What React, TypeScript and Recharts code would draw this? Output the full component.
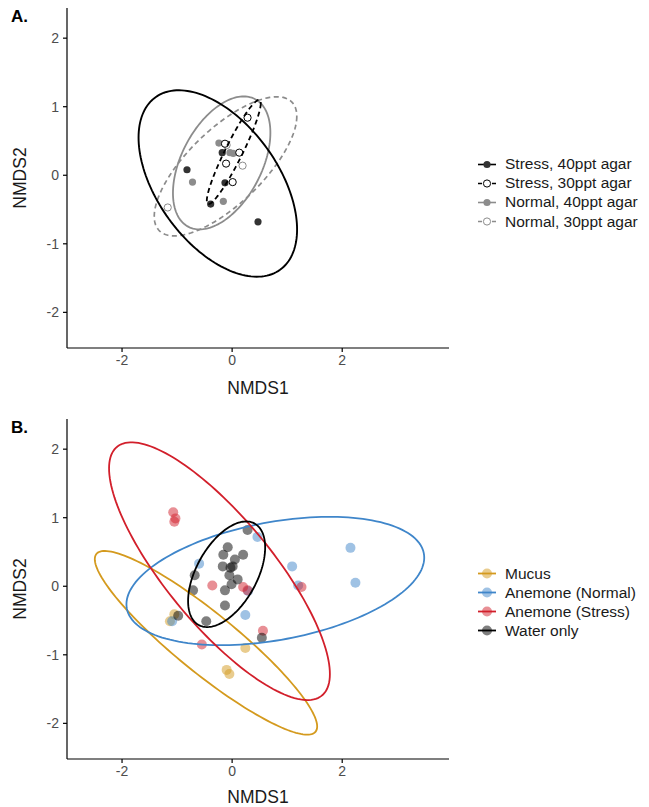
import React from 'react'
import { ScatterChart, Scatter, XAxis, YAxis, Legend } from 'recharts'

type Pt = { x: number; y: number }

const FONT = '"Liberation Sans", Arial, Helvetica, sans-serif'

// ---- panel A: agar treatments ----
const stress40: Pt[] = [
  { x: -0.82, y: 0.08 },
  { x: -0.18, y: 0.33 },
  { x: -0.13, y: -0.11 },
  { x: -0.39, y: -0.42 },
  { x: 0.47, y: -0.68 },
]
const stress30: Pt[] = [
  { x: 0.28, y: 0.84 },
  { x: -0.13, y: 0.46 },
  { x: 0.13, y: 0.33 },
  { x: -0.11, y: 0.17 },
  { x: 0.01, y: -0.1 },
]
const normal40: Pt[] = [
  { x: -0.24, y: 0.47 },
  { x: -0.04, y: 0.33 },
  { x: 0.02, y: 0.32 },
  { x: -0.72, y: -0.1 },
  { x: -0.16, y: -0.38 },
]
const normal30: Pt[] = [
  { x: -1.17, y: -0.47 },
  { x: 0.19, y: 0.14 },
  { x: -0.1, y: 0.44 },
]

// ellipse: [centre x, centre y, half width, half height, y offset at rightmost point]
const ellStress40 = [-0.26, -0.12, 1.44, 1.36, -0.67]
const ellStress30 = [0.03, 0.34, 0.49, 0.76, 0.71]
const ellNormal40 = [-0.19, 0.18, 0.885, 0.97, 0.44]
const ellNormal30 = [-0.12, 0.13, 1.295, 1.015, 0.73]

// ---- panel B: sources ----
const mucus: Pt[] = [
  { x: -1.05, y: -0.41 },
  { x: -1.13, y: -0.51 },
  { x: 0.24, y: -0.9 },
  { x: -0.1, y: -1.22 },
  { x: -0.05, y: -1.28 },
]
const anemoneNormal: Pt[] = [
  { x: 0.46, y: 0.72 },
  { x: -0.6, y: 0.33 },
  { x: 1.09, y: 0.29 },
  { x: 2.15, y: 0.56 },
  { x: 2.24, y: 0.05 },
  { x: 1.2, y: 0.01 },
  { x: 0.29, y: -0.07 },
  { x: 0.24, y: -0.42 },
  { x: -1.09, y: -0.51 },
]
const anemoneStress: Pt[] = [
  { x: -1.07, y: 1.08 },
  { x: -1.03, y: 0.99 },
  { x: -1.05, y: 0.94 },
  { x: -0.36, y: 0.01 },
  { x: 0.2, y: -0.01 },
  { x: 0.28, y: -0.06 },
  { x: 1.26, y: -0.01 },
  { x: 0.56, y: -0.65 },
  { x: -0.55, y: -0.85 },
]
const waterOnly: Pt[] = [
  { x: 0.28, y: 0.82 },
  { x: -0.08, y: 0.57 },
  { x: -0.16, y: 0.46 },
  { x: 0.2, y: 0.46 },
  { x: 0.05, y: 0.39 },
  { x: -0.17, y: 0.29 },
  { x: 0.01, y: 0.29 },
  { x: -0.03, y: 0.27 },
  { x: -0.68, y: 0.16 },
  { x: -0.05, y: 0.16 },
  { x: 0.1, y: 0.1 },
  { x: -0.01, y: 0.03 },
  { x: -0.71, y: -0.06 },
  { x: -0.13, y: -0.06 },
  { x: -0.13, y: -0.28 },
  { x: -0.98, y: -0.43 },
  { x: -0.47, y: -0.51 },
  { x: 0.54, y: -0.75 },
]

const ellMucus = [-0.475, -0.825, 2.02, 1.34, -1.22]
const ellNormal = [0.785, 0.077, 2.705, 0.936, 0.34]
const ellStress = [-0.23, 0.22, 2.006, 1.88, -1.5]
const ellWater = [-0.1, 0.175, 0.7, 0.77, 0.39]

const xTicks = [-2, 0, 2]
const yTicks = [-2, -1, 0, 1, 2]
const xDomain = [-3, 3.94]
const yDomain = [-2.52, 2.44]

const legendA = ['Stress, 40ppt agar', 'Stress, 30ppt agar', 'Normal, 40ppt agar', 'Normal, 30ppt agar']
const legendB = ['Mucus', 'Anemone (Normal)', 'Anemone (Stress)', 'Water only']

// outline of an ellipse from its read-off parameters
function outline([cx, cy, rx, ry, dyR]: number[]): Pt[] {
  const d = Math.acos(Math.max(-1, Math.min(1, dyR / ry)))
  const pts: Pt[] = []
  for (let i = 0; i <= 160; i++) {
    const t = (i / 160) * 2 * Math.PI
    pts.push({ x: cx + rx * Math.cos(t), y: cy + ry * Math.cos(t + d) })
  }
  return pts
}

const noDot = () => <g />

const dot = (r: number, fill: string, stroke: string, opacity = 1) => (p: any) => (
  <circle cx={p.cx} cy={p.cy} r={r} fill={fill} fillOpacity={opacity} stroke={stroke} strokeWidth={1} />
)

const GREY = '#8c8c8c'
const C_MUCUS = '#d49a1e'
const C_NORMAL = '#3f86ca'
const C_STRESS = '#d21f2b'
const C_WATER = '#000000'

const keysA = [
  { fill: '#333333', stroke: 'none', line: '#000', dash: undefined },
  { fill: '#ffffff', stroke: '#000', line: '#000', dash: '4 3' },
  { fill: GREY, stroke: 'none', line: GREY, dash: undefined },
  { fill: '#ffffff', stroke: GREY, line: GREY, dash: '4 3' },
]
const keysB = [C_MUCUS, C_NORMAL, C_STRESS, C_WATER]

function LegendA() {
  return (
    <div style={{ fontFamily: FONT, fontSize: 15.5, color: '#1a1a1a' }}>
      {legendA.map((label, i) => (
        <div key={label} style={{ display: 'flex', alignItems: 'center', height: 19.2 }}>
          <svg width={22} height={19}>
            <line x1={2} x2={20} y1={9.5} y2={9.5} stroke={keysA[i].line} strokeWidth={1.6} strokeDasharray={keysA[i].dash} />
            <circle cx={11} cy={9.5} r={3.6} fill={keysA[i].fill} stroke={keysA[i].stroke} strokeWidth={1} />
          </svg>
          <span style={{ marginLeft: 7, whiteSpace: 'nowrap' }}>{label}</span>
        </div>
      ))}
    </div>
  )
}

function LegendB() {
  return (
    <div style={{ fontFamily: FONT, fontSize: 15.5, color: '#1a1a1a' }}>
      {legendB.map((label, i) => (
        <div key={label} style={{ display: 'flex', alignItems: 'center', height: 18.9 }}>
          <svg width={22} height={19}>
            <circle cx={11} cy={9.5} r={5} fill={keysB[i]} fillOpacity={0.5} />
            <line x1={2} x2={20} y1={9.5} y2={9.5} stroke={keysB[i]} strokeWidth={1.8} />
          </svg>
          <span style={{ marginLeft: 7, whiteSpace: 'nowrap' }}>{label}</span>
        </div>
      ))}
    </div>
  )
}

const tickStyle = { fontSize: 14, fill: '#4d4d4d', fontFamily: FONT }
const titleStyle = { fontSize: 17.5, fill: '#1a1a1a', fontFamily: FONT }

function Axes(titleOffset: number) {
  return [
    <XAxis
      key="x"
      dataKey="x"
      type="number"
      domain={xDomain}
      ticks={xTicks}
      allowDataOverflow
      height={48}
      tickSize={4}
      tickMargin={3}
      axisLine={{ stroke: '#000', strokeWidth: 1.2 }}
      tickLine={{ stroke: '#000', strokeWidth: 1.2 }}
      tick={tickStyle}
      label={{ value: 'NMDS1', position: 'insideBottom', offset: titleOffset, style: titleStyle }}
    />,
    <YAxis
      key="y"
      dataKey="y"
      type="number"
      domain={yDomain}
      ticks={yTicks}
      allowDataOverflow
      width={67}
      tickSize={4}
      tickMargin={4}
      axisLine={{ stroke: '#000', strokeWidth: 1.2 }}
      tickLine={{ stroke: '#000', strokeWidth: 1.2 }}
      tick={tickStyle}
      label={{ value: 'NMDS2', angle: -90, position: 'insideLeft', offset: 20, style: { ...titleStyle, textAnchor: 'middle' } }}
    />,
  ]
}

const tagStyle: React.CSSProperties = {
  position: 'absolute',
  left: 11,
  fontFamily: FONT,
  fontWeight: 'bold',
  fontSize: 17,
  color: '#000',
}

export default function App() {
  return (
    <div style={{ position: 'absolute', left: 0, top: 0, width: 649, height: 807, overflow: 'hidden', background: '#fff' }}>
      <div style={{ position: 'absolute', left: 0, top: 0 }}>
        <ScatterChart width={649} height={410} margin={{ top: 8, right: 200, bottom: 14, left: 0 }}>
          {Axes(2)}
          <Scatter data={normal30} shape={dot(3.6, '#fff', GREY)} isAnimationActive={false} />
          <Scatter data={normal40} shape={dot(3.6, GREY, 'none')} isAnimationActive={false} />
          <Scatter data={stress30} shape={dot(3.6, '#fff', '#000')} isAnimationActive={false} />
          <Scatter data={stress40} shape={dot(3.6, '#333333', 'none')} isAnimationActive={false} />
          <Scatter data={outline(ellNormal30)} shape={noDot} line={{ stroke: GREY, strokeWidth: 1.7, strokeDasharray: '5 3.5' }} isAnimationActive={false} />
          <Scatter data={outline(ellNormal40)} shape={noDot} line={{ stroke: GREY, strokeWidth: 1.8 }} isAnimationActive={false} />
          <Scatter data={outline(ellStress30)} shape={noDot} line={{ stroke: '#000', strokeWidth: 1.8, strokeDasharray: '5 3.5' }} isAnimationActive={false} />
          <Scatter data={outline(ellStress40)} shape={noDot} line={{ stroke: '#000', strokeWidth: 1.9 }} isAnimationActive={false} />
          <Legend layout="horizontal" align="center" verticalAlign="middle" content={LegendA} wrapperStyle={{ left: 476, top: 154.5, width: 172 }} />
        </ScatterChart>
        <div style={{ ...tagStyle, top: 7 }}>A.</div>
      </div>
      <div style={{ position: 'absolute', left: 0, top: 411 }}>
        <ScatterChart width={649} height={396} margin={{ top: 8, right: 200, bottom: 0, left: 0 }}>
          {Axes(4)}
          <Scatter data={mucus} shape={dot(5, C_MUCUS, 'none', 0.5)} isAnimationActive={false} />
          <Scatter data={anemoneNormal} shape={dot(5, C_NORMAL, 'none', 0.5)} isAnimationActive={false} />
          <Scatter data={anemoneStress} shape={dot(5, C_STRESS, 'none', 0.5)} isAnimationActive={false} />
          <Scatter data={waterOnly} shape={dot(5, C_WATER, 'none', 0.5)} isAnimationActive={false} />
          <Scatter data={outline(ellMucus)} shape={noDot} line={{ stroke: C_MUCUS, strokeWidth: 1.8 }} isAnimationActive={false} />
          <Scatter data={outline(ellNormal)} shape={noDot} line={{ stroke: C_NORMAL, strokeWidth: 1.8 }} isAnimationActive={false} />
          <Scatter data={outline(ellStress)} shape={noDot} line={{ stroke: C_STRESS, strokeWidth: 1.8 }} isAnimationActive={false} />
          <Scatter data={outline(ellWater)} shape={noDot} line={{ stroke: C_WATER, strokeWidth: 1.8 }} isAnimationActive={false} />
          <Legend layout="horizontal" align="center" verticalAlign="middle" content={LegendB} wrapperStyle={{ left: 476, top: 153.5, width: 172 }} />
        </ScatterChart>
        <div style={{ ...tagStyle, top: 7 }}>B.</div>
      </div>
    </div>
  )
}
